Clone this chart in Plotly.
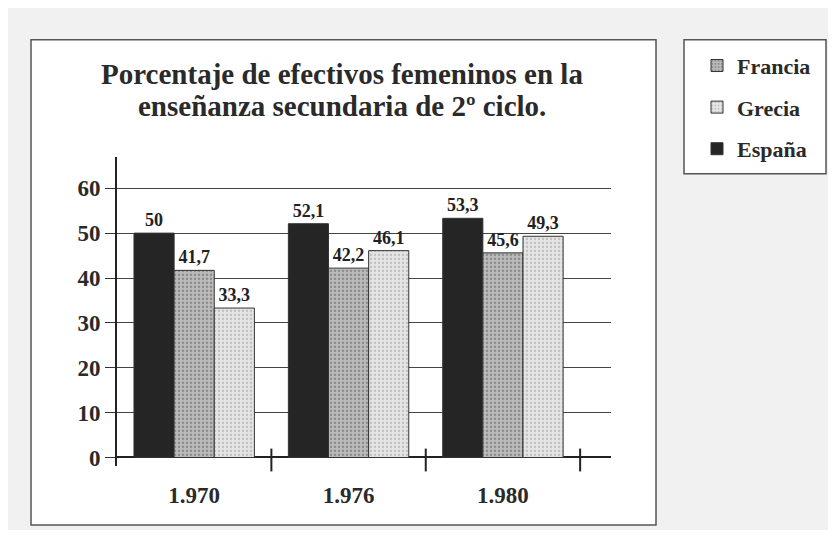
import plotly.graph_objects as go

years = ["1.970", "1.976", "1.980"]
espana = [50, 52.1, 53.3]
francia = [41.7, 42.2, 45.6]
grecia = [33.3, 46.1, 49.3]
y_ticks = [0, 10, 20, 30, 40, 50, 60]
title_lines = ["Porcentaje de efectivos femeninos en la", "enseñanza secundaria de 2º ciclo."]

# the page has an 8px body margin on every side; work in page pixel coordinates
OFF = 8
W, H = 836 - 2 * OFF, 538 - 2 * OFF
SERIF = "Liberation Serif"

def px(x):
    return (x - OFF) / W

def py(y):
    return 1 - (y - OFF) / H

def lab(vals):
    return [f"{v:g}".replace(".", ",") for v in vals]

fig = go.Figure()
series = [
    ("España", espana, dict(color="#252525"), 3),
    ("Francia", francia, dict(color="#b4b4b4",
                               pattern=dict(shape=".", fgcolor="#5a5a5a", bgcolor="#bdbdbd",
                                            size=4, solidity=0.35)), 1),
    ("Grecia", grecia, dict(color="#e2e2e2",
                             pattern=dict(shape=".", fgcolor="#9a9a9a", bgcolor="#e6e6e6",
                                          size=4, solidity=0.3)), 2),
]
for name, vals, mk, rank in series:
    mk = dict(mk)
    mk["line"] = dict(color="#333333", width=1)
    fig.add_trace(go.Bar(
        x=years, y=vals, name=name, marker=mk,
        text=lab(vals), textposition="outside", cliponaxis=False,
        textfont=dict(family=SERIF, size=18, color="#222222", weight="bold"),
        legendrank=rank, legendgroup=name,
    ))

shapes = [
    dict(type="rect", xref="paper", yref="paper", x0=px(31), x1=px(656), y0=py(529), y1=py(40),
         fillcolor="white", line=dict(color="#555555", width=1.5), layer="below"),
    dict(type="rect", xref="paper", yref="paper", x0=px(684), x1=px(826), y0=py(175), y1=py(40),
         fillcolor="white", line=dict(color="#555555", width=1.5), layer="below"),
]
for b in [0.5, 1.5, 2.5]:
    shapes.append(dict(type="line", xref="x", yref="paper", x0=b, x1=b,
                       y0=py(475), y1=py(452), line=dict(color="#222222", width=2)))

title_font = dict(family=SERIF, size=29, color="#2a2a2a", weight="bold")
annotations = [
    dict(text=title_lines[1], xref="paper", yref="paper", x=px(342), y=py(107),
         xanchor="center", yanchor="middle", showarrow=False, font=title_font),
]

fig.update_layout(
    width=W, height=H,
    margin=dict(l=0, r=0, t=0, b=0),
    paper_bgcolor="#f1f1f1",
    plot_bgcolor="rgba(0,0,0,0)",
    barmode="group", bargap=0.22, bargroupgap=0,
    title=dict(text=title_lines[0],
               x=px(342), xanchor="center", xref="paper", y=py(74), yref="paper", yanchor="middle",
               font=title_font),
    xaxis=dict(domain=[px(117), px(611)], range=[-0.5, 2.7], type="category",
               showgrid=False, showline=False, zeroline=False, ticks="",
               tickfont=dict(family=SERIF, size=23, color="#2a2a2a", weight="bold"),
               ticklabelstandoff=13),
    yaxis=dict(domain=[py(470), py(158)], range=[-2, 67],
               tickvals=y_ticks, ticks="outside", ticklen=10, tickcolor="#333333", tickwidth=1,
               showgrid=True, gridcolor="#444444", gridwidth=1,
               zeroline=True, zerolinecolor="#222222", zerolinewidth=2,
               showline=True, linecolor="#222222", linewidth=2,
               tickfont=dict(family=SERIF, size=23, color="#2a2a2a", weight="bold")),
    legend=dict(x=px(697), xanchor="left", y=py(45), yanchor="top",
                bgcolor="rgba(0,0,0,0)", traceorder="grouped", tracegroupgap=10,
                font=dict(family=SERIF, size=22, color="#2a2a2a", weight="bold")),
    shapes=shapes,
    annotations=annotations,
)

fig.write_html("out.html")
